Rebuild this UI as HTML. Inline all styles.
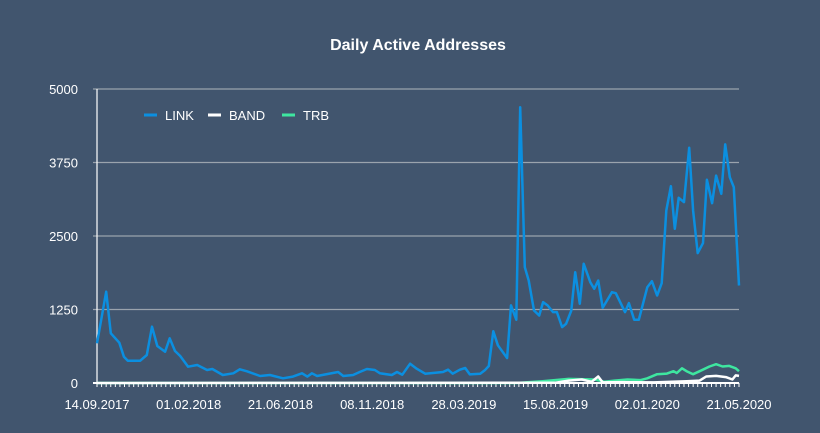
<!DOCTYPE html>
<html><head><meta charset="utf-8"><style>
html,body{margin:0;padding:0;background:#41556e;}
svg{display:block;font-family:"Liberation Sans",sans-serif;}
</style></head><body>
<svg id="chart" width="820" height="433">
<rect width="820" height="433" fill="#41556e"/>
<text x="418" y="50" text-anchor="middle" fill="#ffffff" font-size="16" font-weight="bold">Daily Active Addresses</text>
<g id="grid"></g>
<g id="series"></g>
<g>
<g><line x1="144" y1="115" x2="157" y2="115" stroke="#0b8fe0" stroke-width="3"/><text x="165" y="120" fill="#fff" font-size="13">LINK</text></g>
<g><line x1="208" y1="115" x2="221" y2="115" stroke="#ffffff" stroke-width="3"/><text x="229" y="120" fill="#fff" font-size="13">BAND</text></g>
<g><line x1="282" y1="115" x2="295" y2="115" stroke="#3ee6a0" stroke-width="3"/><text x="303" y="120" fill="#fff" font-size="13">TRB</text></g>
</g>
</svg>
<script>
const yTicks=[0,1250,2500,3750,5000];
const xTickDays=[0,140,280,420,560,700,840,980];
const xTickLabels=["14.09.2017","01.02.2018","21.06.2018","08.11.2018","28.03.2019","15.08.2019","02.01.2020","21.05.2020"];
const linkDays=[0,14,21,34,41,47,66,76,84,92,104,111,119,127,139,153,168,176,192,208,218,229,249,264,284,299,313,321,328,336,368,376,391,401,412,424,432,450,458,466,478,488,501,528,536,543,554,562,569,585,592,598,605,612,626,632,640,646,653,659,667,675,681,688,696,702,710,716,724,730,737,743,753,759,765,772,786,792,806,812,820,827,840,847,855,862,869,876,882,888,896,904,910,917,925,931,939,945,953,959,966,972,980];
const linkValues=[675,1552,845,685,447,379,380,476,957,629,532,760,544,459,277,306,221,238,136,165,233,199,119,136,80,108,165,108,165,119,187,119,136,187,238,221,165,136,187,142,329,244,159,187,227,159,227,255,147,159,216,289,879,641,425,1320,1076,4690,1970,1743,1233,1148,1375,1318,1205,1205,950,1006,1233,1885,1347,2027,1715,1602,1743,1279,1545,1528,1205,1358,1075,1075,1630,1732,1488,1698,2933,3347,2622,3149,3077,4000,2933,2210,2380,3455,3058,3528,3217,4057,3500,3330,1658];
const trbDays=[0,640,680,720,760,775,790,810,830,840,855,870,880,885,893,900,910,920,935,945,955,965,975,980];
const trbValues=[0,0,30,70,60,20,40,60,50,80,150,160,200,170,250,200,150,200,280,320,280,290,250,200];
const bandDays=[0,700,720,740,755,765,772,800,850,900,920,930,945,960,970,975,980];
const bandValues=[0,5,40,60,20,110,10,15,10,30,40,110,120,100,60,130,120];

const X0=97,X1=739,Y0=383,Y1=89,DMAX=980,VMAX=5000;
const xs=d=>X0+(X1-X0)*d/DMAX;
const ys=v=>Y0-(Y0-Y1)*v/VMAX;
const NS="http://www.w3.org/2000/svg";
const grid=document.getElementById('grid');
const ser=document.getElementById('series');
function mk(tag,at,parent){const e=document.createElementNS(NS,tag);for(const k in at)e.setAttribute(k,at[k]);parent.appendChild(e);return e;}
yTicks.forEach(v=>{
 const l=mk('line',{x1:X0-4,x2:X1,y1:ys(v),y2:ys(v),stroke:v===0?'#ffffff':'#9aa3ad','stroke-width':v===0?2:1.2},grid);
 
 
 const t=mk('text',{x:X0-19,y:ys(v)+5,'text-anchor':'end',fill:'#fff','font-size':13},grid);
 t.textContent=v;
 
 
});
const ax=mk('line',{x1:X0,x2:X0,y1:Y1,y2:Y0,stroke:'#ffffff','stroke-width':1.2},grid);


for(let d=0;d<=DMAX;d+=7){
 const tk=mk('line',{x1:xs(d),x2:xs(d),y1:Y0,y2:Y0+4,stroke:'#fff','stroke-width':1},grid);
 
 
}
xTickDays.forEach((d,i)=>{
 const t=mk('text',{x:xs(d),y:409,'text-anchor':'middle',fill:'#fff','font-size':13},grid);
 t.textContent=xTickLabels[i];
 
 
});
function line(days,vals,color,name){
 const p=days.map((d,i)=>xs(d).toFixed(1)+','+ys(vals[i]).toFixed(1)).join(' ');
 const e=mk('polyline',{points:p,fill:'none',stroke:color,'stroke-width':2.5,'stroke-linejoin':'round'},ser);
 
 
}
line(trbDays,trbValues,'#3ee6a0','trb-line');
line(bandDays,bandValues,'#ffffff','band-line');
line(linkDays,linkValues,'#0b8fe0','link-line');
</script>
</body></html>
